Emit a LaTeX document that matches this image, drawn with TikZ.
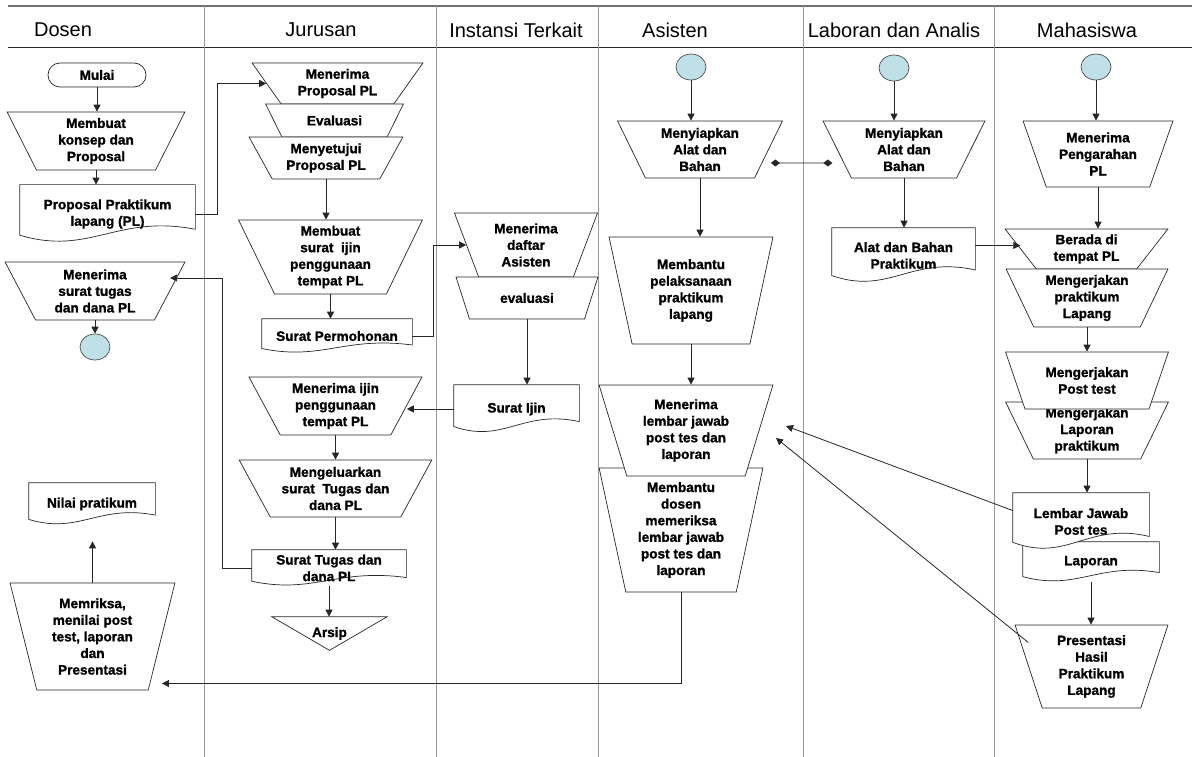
\documentclass[tikz,border=0pt]{standalone}
\usepackage{fontspec}
\setmainfont{Liberation Sans}[BoldFeatures={FakeBold=1.2}]
\usetikzlibrary{shapes.geometric,arrows.meta}

\makeatletter
% document symbol: rectangle with a wavy bottom
\pgfdeclareshape{docshape}{
  \inheritsavedanchors[from=rectangle]
  \inheritanchorborder[from=rectangle]
  \inheritanchor[from=rectangle]{center}
  \inheritanchor[from=rectangle]{text}
  \inheritanchor[from=rectangle]{north}
  \inheritanchor[from=rectangle]{south}
  \inheritanchor[from=rectangle]{east}
  \inheritanchor[from=rectangle]{west}
  \inheritanchor[from=rectangle]{north east}
  \inheritanchor[from=rectangle]{north west}
  \inheritanchor[from=rectangle]{south east}
  \inheritanchor[from=rectangle]{south west}
  \backgroundpath{
    \southwest \edef\docx{\the\pgf@x}\edef\docy{\the\pgf@y}
    \northeast \edef\docX{\the\pgf@x}\edef\docY{\the\pgf@y}
    \pgfmathsetmacro\docw{\docX-\docx}
    \pgfmathsetmacro\doch{\docY-\docy}
    \pgfpathmoveto{\pgfpoint{\docx}{\docY}}
    \pgfpathlineto{\pgfpoint{\docX}{\docY}}
    \pgfpathlineto{\pgfpoint{\docX}{\docy+.24*\doch}}
    \pgfpathcurveto{\pgfpoint{\docx+.55*\docw}{\docy+.5*\doch}}
      {\pgfpoint{\docx+.4*\docw}{\docy-.22*\doch}}
      {\pgfpoint{\docx}{\docy+.14*\doch}}
    \pgfpathclose
  }
}
% archive symbol: triangle pointing down
\pgfdeclareshape{mergeshape}{
  \inheritsavedanchors[from=rectangle]
  \inheritanchorborder[from=rectangle]
  \inheritanchor[from=rectangle]{center}
  \inheritanchor[from=rectangle]{text}
  \inheritanchor[from=rectangle]{north}
  \inheritanchor[from=rectangle]{south}
  \inheritanchor[from=rectangle]{east}
  \inheritanchor[from=rectangle]{west}
  \backgroundpath{
    \southwest \edef\arx{\the\pgf@x}\edef\ary{\the\pgf@y}
    \northeast \edef\arX{\the\pgf@x}\edef\arY{\the\pgf@y}
    \pgfpathmoveto{\pgfpoint{\arx}{\arY}}
    \pgfpathlineto{\pgfpoint{\arX}{\arY}}
    \pgfpathlineto{\pgfpoint{(\arx+\arX)/2}{\ary}}
    \pgfpathclose
  }
}
\makeatother

\definecolor{termblue}{RGB}{190,224,230}

\begin{document}
\begin{tikzpicture}[x=1pt,y=-1pt,
    every node/.style={font=\bfseries\fontsize{13.6}{16.6}\selectfont, align=center, inner sep=1.5pt},
    head/.style={font=\fontsize{20}{24}\selectfont},
    lane/.style={draw=black!40, line width=.9pt},
    proc/.style args={#1/#2/#3}{trapezium, shape border rotate=180, trapezium stretches=true,
        draw=black!85, fill=white, line width=.7pt,
        minimum width=#1pt, minimum height=#2pt, trapezium angle=#3},
    docu/.style args={#1/#2}{docshape, draw=black!85, fill=white, line width=.7pt,
        minimum width=#1pt, minimum height=#2pt},
    merge/.style={mergeshape, draw=black!85, fill=white, line width=.7pt},
    term/.style={rectangle, rounded corners=12pt, draw=black!85, line width=.7pt,
        minimum width=98pt, minimum height=24pt},
    conn/.style={ellipse, draw=black!70, fill=termblue, line width=.7pt,
        minimum width=30pt, minimum height=26pt, inner sep=0pt},
    arr/.style={-{Triangle[length=7pt,width=7pt]}, draw=black!85, line width=.8pt},
    dia/.style={{Diamond[length=9pt,width=7pt]}-{Diamond[length=9pt,width=7pt]}, draw=black!85, line width=.8pt}]
    \useasboundingbox (0,0) rectangle (1192,757);

    % lanes
    \draw[black!55, line width=1.6pt] (8,6) -- (1192,6);
    \draw[black!85, line width=1pt] (8,48) -- (1192,48);
    \draw[lane] (204,6) -- (204,757) (436,6) -- (436,757) (598,6) -- (598,757)
                (803,6) -- (803,757) (994,6) -- (994,757);
    \node[head] (hDosen) at (63,30) {Dosen};
    \node[head] (hJurusan) at (321,30) {Jurusan};
    \node[head] (hInstansi) at (516,30) {Instansi Terkait};
    \node[head] (hAsisten) at (675,30) {Asisten};
    \node[head] (hLaboran) at (894,30) {Laboran dan Analis};
    \node[head] (hMhs) at (1087,30) {Mahasiswa};

    % Dosen
    \node[term] (mulai) at (97,75) {Mulai};
    \node[proc=178/58/68.4] (konsep) at (96,141) {Membuat\\konsep dan\\Proposal};
    \node[docu=175/58] (propD) at (107.5,214) {Proposal Praktikum\\lapang (PL)};
    \node[proc=180/58/65] (tugasD) at (95,291) {Menerima\\surat tugas\\dan dana PL};
    \node[conn] (endD) at (95,347) {};
    \node[docu=126/42] (nilai) at (92,504) {Nilai pratikum};
    \node[proc=165/107/75.8] (memriksa) at (92.5,636.5) {Memriksa,\\menilai post\\test, laporan\\dan\\Presentasi};

    % Jurusan
    \node[proc=171/41/56.6] (mprop) at (337.5,83.5) {Menerima\\Proposal PL};
    \node[proc=138/33/55.1] (eval1) at (334.5,120.5) {Evaluasi};
    \node[proc=154/42/61.3] (setuju) at (326,158) {Menyetujui\\Proposal PL};
    \node[proc=184/74/67.6] (ijin1) at (330.5,257) {Membuat\\surat~ ijin\\penggunaan\\tempat PL};
    \node[docu=150/34] (mohon) at (337,336) {Surat Permohonan};
    \node[proc=173/58/62.6] (mijin) at (335.5,406) {Menerima ijin\\penggunaan\\tempat PL};
    \node[proc=193/57/60.3] (keluar) at (335.5,488.5) {Mengeluarkan\\surat~ Tugas dan\\dana PL};
    \node[docu=154/36] (tugasJ) at (329,568) {Surat Tugas dan\\dana PL};
    \node[merge, minimum width=115pt, minimum height=33pt] (arsip) at (329.5,633.5) {Arsip};

    % Instansi Terkait
    \node[proc=144/64/69.8] (daftar) at (526,245) {Menerima\\daftar\\Asisten};
    \node[proc=143/42/62.9] (eval2) at (527,298) {evaluasi};
    \node[docu=125/48] (sijin) at (516.5,409) {Surat Ijin};

    % Asisten
    \node[conn] (startA) at (691,67) {};
    \node[proc=165/57/65.9] (siapA) at (700,149.5) {Menyiapkan\\Alat dan\\Bahan};
    \node[proc=164/107/75.8] (bantu) at (691,290.5) {Membantu\\pelaksanaan\\praktikum\\lapang};
    \node[proc=164/124/77.7] (periksa) at (681,530) {Membantu\\dosen\\memeriksa\\lembar jawab\\post tes dan\\laporan};
    \node[proc=174/91/72.3] (mlem) at (686,430.5) {Menerima\\lembar jawab\\post tes dan\\laporan};

    % Laboran dan Analis
    \node[conn] (startL) at (894,68) {};
    \node[proc=162/57/64.7] (siapL) at (904,149.5) {Menyiapkan\\Alat dan\\Bahan};
    \node[docu=143/55] (alat) at (903.5,255.5) {Alat dan Bahan\\Praktikum};

    % Mahasiswa
    \node[conn] (startM) at (1096,67) {};
    \node[proc=150/66/68.5] (arah) at (1098,154) {Menerima\\Pengarahan\\PL};
    \node[proc=163/40/56.5] (berada) at (1086.5,249) {Berada di\\tempat PL};
    \node[proc=162/58/65.4] (kerja) at (1087,298) {Mengerjakan\\praktikum\\Lapang};
    \node[proc=163/57/65.5] (lap) at (1087,430.5) {Mengerjakan\\Laporan\\praktikum};
    \node[proc=163/57/65.5] (post) at (1087,380.5) {Mengerjakan\\Post test};
    \node[docu=136/40] (laporan) at (1091,562) {Laporan};
    \node[docu=136/57] (lembar) at (1081,521.5) {Lembar Jawab\\Post tes};
    \node[proc=153/83/73.2] (presen) at (1091.5,666.5) {Presentasi\\Hasil\\Praktikum\\Lapang};

    \coordinate (inA) at (786,426);
    \coordinate (inB) at (776,438);

    % connectors
    \draw[arr] (mulai.south) -- (mulai.south |- konsep.north);
    \draw[arr] (konsep.south) -- (konsep.south |- propD.north);
    \draw[arr] (propD.east) -- ++(22,0) |- (mprop.west);
    \draw[arr] (setuju.south) -- (setuju.south |- ijin1.north);
    \draw[arr] (ijin1.south) -- (ijin1.south |- mohon.north);
    \draw[arr] (mohon.east) -- ++(21,0) |- (daftar.west);
    \draw[arr] (eval2.south) -- (eval2.south |- sijin.north);
    \draw[arr] (sijin.west) -- (sijin.west -| mijin.east);
    \draw[arr] (mijin.south) -- (mijin.south |- keluar.north);
    \draw[arr] (keluar.south) -- (keluar.south |- tugasJ.north);
    \draw[arr] (tugasJ.west) -- ++(-29,0) |- ([yshift=13pt]tugasD.east);
    \draw[arr] (tugasD.south) -- (tugasD.south |- endD.north);
    \draw[arr] (tugasJ.south) -- (tugasJ.south |- arsip.north);
    \draw[arr] (periksa.south) |- ([yshift=-47pt]memriksa.east);
    \draw[arr, shorten >=16pt] (memriksa.north) -- (memriksa.north |- nilai.south);
    \draw[arr] (startA.south) -- (startA.south |- siapA.north);
    \draw[dia] ([xshift=2pt,yshift=-13.5pt]siapA.east) -- ([xshift=-4.5pt,yshift=-13.5pt]siapL.west);
    \draw[arr] (siapA.south) -- (siapA.south |- bantu.north);
    \draw[arr] (bantu.south) -- (bantu.south |- mlem.north);
    \draw[arr] (startL.south) -- (startL.south |- siapL.north);
    \draw[arr] (siapL.south) -- (siapL.south |- alat.north);
    \draw[arr] ([yshift=10pt]alat.east) -- ([yshift=10pt]alat.east -| berada.west);
    \draw[arr] (startM.south) -- (startM.south |- arah.north);
    \draw[arr] (arah.south) -- (arah.south |- berada.north);
    \draw[arr] (kerja.south) -- (kerja.south |- post.north);
    \draw[arr] (lap.south) -- (lap.south |- lembar.north);
    \draw[arr] (laporan.south) -- (laporan.south |- presen.north);
    \draw[arr] ([yshift=11pt]lembar.west) -- (inA);
    \draw[arr] ([yshift=24pt]presen.west) -- (inB);
\end{tikzpicture}
\end{document}
